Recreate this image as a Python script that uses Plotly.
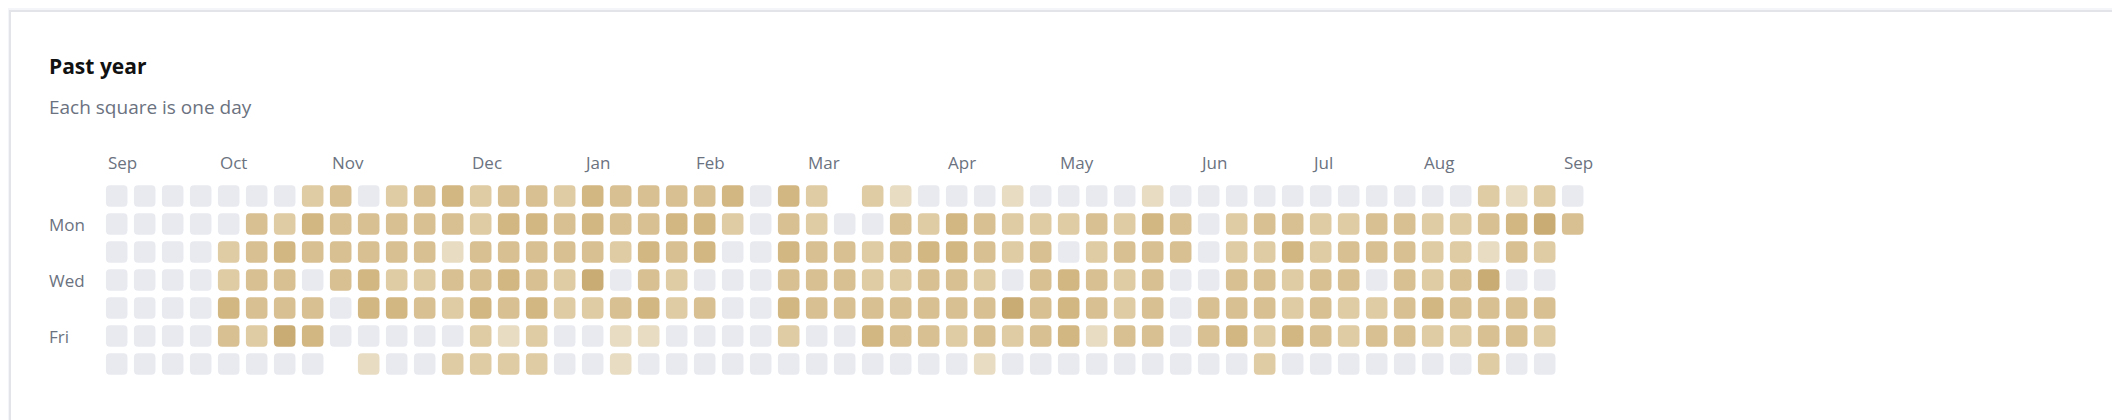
import plotly.graph_objects as go

# intensity level per weekday row (Sun..Sat) and week column; None = no cell
N = None
row_sun = [0,0,0,0,0,0,0,2,3,0,2,3,4,2,3,3, 2,4,3,3,3,3,4,0,4,2,N,2,1,0,0,0,1,0,0,0, 0,1,0,0,0,0,0,0,0,0,0,0,0,2,1,2,0]
row_mon = [0,0,0,0,0,3,2,4,3,3,3,3,3,2,4,4, 3,4,3,3,4,4,2,0,3,2,0,0,3,2,4,3,2,2,2,3, 2,4,3,0,2,3,3,2,2,3,3,2,2,3,4,5,3]
row_tue = [0,0,0,0,2,3,4,3,3,3,3,3,1,3,3,3, 3,3,2,4,3,4,0,0,4,3,3,2,3,4,4,3,2,3,0,2, 3,3,3,0,2,2,4,2,3,3,3,2,2,1,3,2,N]
row_wed = [0,0,0,0,2,3,3,0,3,4,2,2,3,3,4,3, 2,5,0,3,2,0,0,0,3,3,3,2,2,3,3,2,0,3,4,3, 2,3,0,0,3,3,2,3,3,0,3,2,3,5,0,0,N]
row_thu = [0,0,0,0,4,3,3,3,0,4,4,3,2,4,3,4, 2,2,3,4,2,3,0,0,4,3,3,3,3,3,3,3,5,3,4,3, 2,3,0,3,3,3,2,3,2,2,3,4,3,3,3,3,N]
row_fri = [0,0,0,0,3,2,5,4,0,0,0,0,0,2,1,2, 0,0,1,1,0,0,0,0,2,0,0,4,3,3,2,3,2,3,4,1, 3,3,0,3,4,2,4,3,2,3,3,2,2,3,3,2,N]
row_sat = [0,0,0,0,0,0,0,0,N,1,0,0,2,2,2,2, 0,0,1,0,0,0,0,0,0,0,0,0,0,0,0,1,0,0,0,0, 0,0,0,0,0,2,0,0,0,0,0,0,0,2,0,0,N]
rows = [row_sun, row_mon, row_tue, row_wed, row_thu, row_fri, row_sat]

month_labels = ["Sep","Oct","Nov","Dec","Jan","Feb","Mar","Apr","May","Jun","Jul","Aug","Sep"]
month_cols = [0,4,8,13,17,21,25,30,34,39,43,47,52]
day_labels = ["Mon","Wed","Fri"]
day_rows = [1,3,5]

colors = ["#e8eaf0","#e8dcc3","#dfcba4","#d8c093","#d2b783","#c9ab74"]

W, H = 2120, 420
PITCH = 28.0
X0, Y0 = 108.7, 188.0  # pixel centre of column 0 / row 0

fig = go.Figure()
xs, ys, cs = [], [], []
shapes = []
h, r = 0.385, 0.15
for ri, row in enumerate(rows):
    for ci, v in enumerate(row):
        if v is None:
            continue
        xs.append(ci); ys.append(ri); cs.append(colors[v])
        x0, x1, y0, y1 = ci - h, ci + h, ri - h, ri + h
        path = (f"M {x0+r},{y0} L {x1-r},{y0} Q {x1},{y0} {x1},{y0+r} "
                f"L {x1},{y1-r} Q {x1},{y1} {x1-r},{y1} L {x0+r},{y1} "
                f"Q {x0},{y1} {x0},{y1-r} L {x0},{y0+r} Q {x0},{y0} {x0+r},{y0} Z")
        shapes.append(dict(type="path", path=path, xref="x", yref="y",
                           fillcolor=colors[v], line=dict(width=0), layer="above"))

fig.add_trace(go.Scatter(x=xs, y=ys, mode="markers",
                         marker=dict(size=1, color=cs, opacity=0), hoverinfo="skip",
                         showlegend=False))

# card border
shapes.insert(0, dict(type="rect", xref="paper", yref="paper", x0=2/W, x1=1-2/W, y0=3/H, y1=1-3/H,
                      line=dict(color="#e2e4ea", width=2), fillcolor="white", layer="below"))

ann = []
ann.append(dict(text="<b>Past year</b>", x=39/W, y=1-58/H, xref="paper", yref="paper",
                xanchor="left", yanchor="middle", showarrow=False,
                font=dict(size=21, color="#111111")))
ann.append(dict(text="Each square is one day", x=39/W, y=1-99/H, xref="paper", yref="paper",
                xanchor="left", yanchor="middle", showarrow=False,
                font=dict(size=19, color="#6b7280")))
for lab, c in zip(month_labels, month_cols):
    ann.append(dict(text=lab, x=c - 0.4, y=-1.2, xref="x", yref="y", xanchor="left",
                    yanchor="middle", showarrow=False, font=dict(size=17, color="#6b7280")))
for lab, rr in zip(day_labels, day_rows):
    ann.append(dict(text=lab, x=39/W, y=rr, xref="paper", yref="y", xanchor="left",
                    yanchor="middle", showarrow=False, font=dict(size=17, color="#6b7280")))

fig.update_layout(
    width=W, height=H, margin=dict(l=0, r=0, t=0, b=0),
    paper_bgcolor="#f4f5f8", plot_bgcolor="rgba(0,0,0,0)",
    font=dict(family="Open Sans, Noto Sans, sans-serif"),
    xaxis=dict(range=[-X0/PITCH, (W - X0)/PITCH], visible=False, fixedrange=True),
    yaxis=dict(range=[(H - Y0)/PITCH, -Y0/PITCH], visible=False, fixedrange=True),
    shapes=shapes, annotations=ann,
)
fig.write_html("out.html")
